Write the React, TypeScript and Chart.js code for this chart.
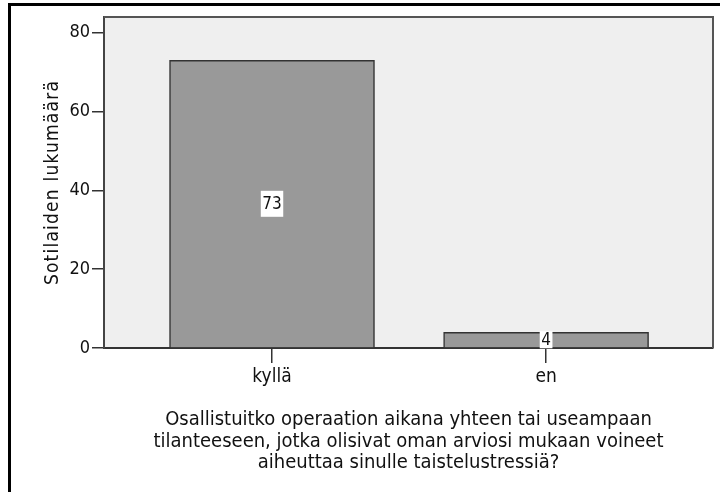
import React, { useEffect, useRef } from "react";
import { Chart, registerables } from "chart.js";

Chart.register(...registerables);

const categories = ["kyllä", "en"];
const counts = [73, 4];
const yTicks = [0, 20, 40, 60, 80];
const yTitle = "Sotilaiden lukumäärä";
const xTitleLines = [
  "Osallistuitko operaation aikana yhteen tai useampaan",
  "tilanteeseen, jotka olisivat oman arviosi mukaan voineet",
  "aiheuttaa sinulle taistelustressiä?",
];

const FONT = '"DejaVu Sans Condensed", "DejaVu Sans", sans-serif';

const framePlugin = {
  id: "frame",
  beforeDraw(chart: any) {
    const { ctx, chartArea } = chart;
    ctx.save();
    ctx.fillStyle = "#ffffff";
    ctx.fillRect(0, 0, chart.width, chart.height);
    ctx.fillStyle = "#000000";
    ctx.fillRect(8, 3, chart.width - 8, 3);
    ctx.fillRect(8, 3, 3, chart.height - 3);
    ctx.fillStyle = "#efefef";
    ctx.fillRect(chartArea.left, chartArea.top, chartArea.right - chartArea.left, chartArea.bottom - chartArea.top);
    ctx.restore();
  },
  afterDraw(chart: any) {
    const { ctx, chartArea } = chart;
    ctx.save();
    ctx.strokeStyle = "#555555";
    ctx.lineWidth = 2;
    ctx.beginPath();
    ctx.moveTo(chartArea.left, chartArea.top);
    ctx.lineTo(chartArea.right, chartArea.top);
    ctx.lineTo(chartArea.right, chartArea.bottom);
    ctx.stroke();
    // axis titles
    ctx.fillStyle = "#111111";
    ctx.textAlign = "center";
    ctx.textBaseline = "alphabetic";
    ctx.save();
    ctx.font = `19px ${FONT}`;
    (ctx as any).letterSpacing = "1.2px";
    ctx.translate(58, (chartArea.top + chartArea.bottom) / 2);
    ctx.rotate(-Math.PI / 2);
    ctx.fillText(yTitle, 0, 0);
    ctx.restore();
    ctx.font = `20px ${FONT}`;
    const cx = (chartArea.left + chartArea.right) / 2;
    xTitleLines.forEach((line, i) => {
      ctx.fillText(line, cx, 425 + i * 21.5);
    });
    ctx.restore();
  },
};

const labelPlugin = {
  id: "barLabels",
  afterDatasetsDraw(chart: any) {
    const { ctx } = chart;
    const meta = chart.getDatasetMeta(0);
    ctx.save();
    ctx.font = `17px ${FONT}`;
    ctx.textAlign = "center";
    ctx.textBaseline = "middle";
    meta.data.forEach((el: any, i: number) => {
      const text = String(counts[i]);
      const cy = (el.y + el.base) / 2;
      const w = ctx.measureText(text).width + 3;
      const barH = Math.abs(el.base - el.y);
      const h = Math.min(26, barH + 2);
      ctx.fillStyle = "#ffffff";
      ctx.fillRect(el.x - w / 2, cy - h / 2, w, h);
      ctx.fillStyle = "#111111";
      ctx.fillText(text, el.x, cy + 1);
    });
    ctx.restore();
  },
};

export default function App() {
  const ref = useRef<HTMLCanvasElement | null>(null);
  useEffect(() => {
    if (!ref.current) return;
    const chart = new Chart(ref.current, {
      type: "bar",
      data: {
        datasets: [
          {
            data: categories.map((_, i) => ({ x: i, y: counts[i] })),
            backgroundColor: "#999999",
            borderColor: "#333333",
            borderWidth: 1.5,
            barThickness: 205,
          } as any,
        ],
      },
      options: {
        responsive: false,
        animation: false,
        devicePixelRatio: 1,
        layout: { padding: { left: 10, top: 17, right: 7, bottom: 0 } },
        plugins: { legend: { display: false }, tooltip: { enabled: false } },
        scales: {
          x: {
            type: "linear",
            min: -0.613,
            max: 1.609,
            offset: false,
            afterBuildTicks(scale: any) {
              scale.ticks = categories.map((_, i) => ({ value: i }));
            },
            afterFit(scale: any) {
              scale.height = 144;
            },
            ticks: {
              callback: (v: any) => categories[v] ?? "",
              color: "#111111",
              font: { family: FONT, size: 19 },
              padding: 3,
              maxRotation: 0,
            },
            grid: { offset: false, drawOnChartArea: false, drawTicks: true, tickLength: 15, color: "#333333", lineWidth: 1.5 },
            border: { display: true, color: "#333333", width: 2 },
          },
          y: {
            type: "linear",
            min: 0,
            max: 84,
            afterBuildTicks(scale: any) {
              scale.ticks = yTicks.map((v) => ({ value: v }));
            },
            afterFit(scale: any) {
              scale.width = 94;
            },
            ticks: {
              color: "#111111",
              font: { family: FONT, size: 18 },
              padding: 2,
            },
            grid: { drawOnChartArea: false, drawTicks: true, tickLength: 12, color: "#333333", lineWidth: 1.5 },
            border: { display: true, color: "#444444", width: 2 },
          },
        },
      },
      plugins: [framePlugin, labelPlugin],
    });
    return () => chart.destroy();
  }, []);
  return (
    <canvas
      ref={ref}
      width={720}
      height={492}
      style={{ position: "fixed", left: 0, top: 0, width: 720, height: 492 }}
    />
  );
}
